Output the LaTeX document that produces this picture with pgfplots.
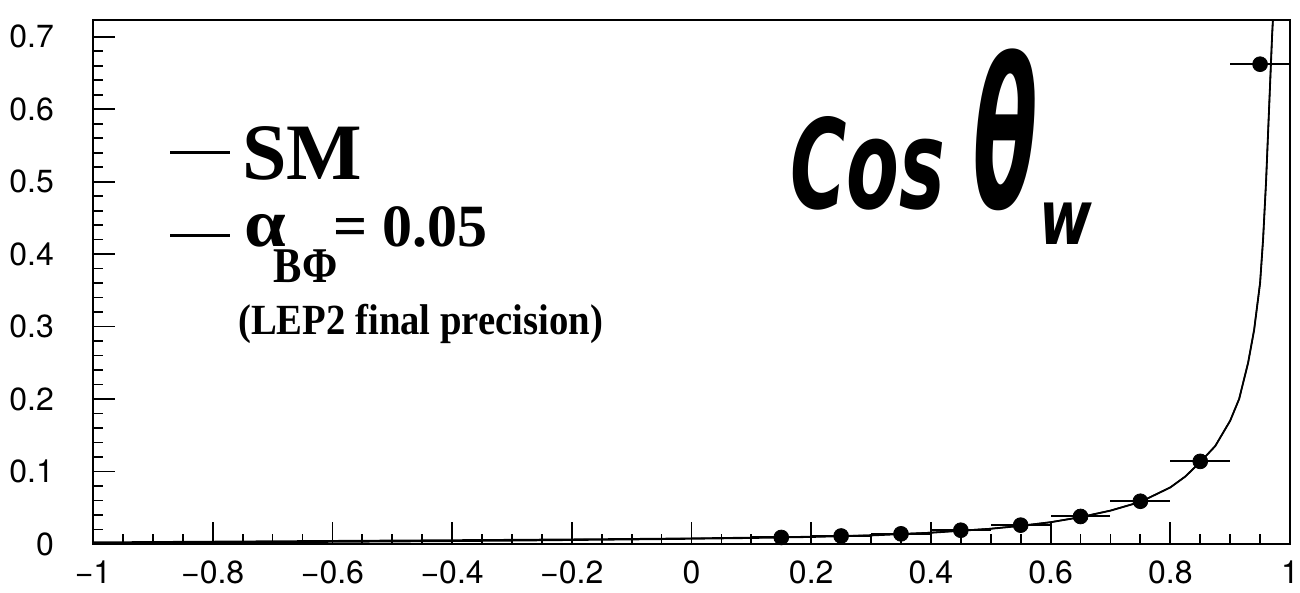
\documentclass[border=0pt]{standalone}
\usepackage{graphicx}
\usepackage{pgfplots}
\pgfplotsset{compat=1.18}
\usepackage{fontspec}
\setmainfont{Liberation Serif}
\newfontfamily\tickfont{TeX Gyre Heros}
\newfontfamily\handfont{DejaVu Sans}

% binned measurement: bin centre, value, half bin width
\pgfplotstableread{
x     y      ex
0.15  0.009  0.05
0.25  0.011  0.05
0.35  0.014  0.05
0.45  0.019  0.05
0.55  0.026  0.05
0.65  0.038  0.05
0.75  0.059  0.05
0.85  0.114  0.05
0.95  0.662  0.05
}\measured

\begin{document}
\begin{tikzpicture}
\begin{axis}[
  scale only axis, width=598.5pt, height=262pt,
  xmin=-1, xmax=1, ymin=0, ymax=0.723,
  axis line style={line width=1.2pt},
  xtick={-1,-0.8,-0.6,-0.4,-0.2,0,0.2,0.4,0.6,0.8,1},
  xticklabels={−1,−0.8,−0.6,−0.4,−0.2,0,0.2,0.4,0.6,0.8,1},
  ytick={0,0.1,0.2,0.3,0.4,0.5,0.6,0.7},
  yticklabels={0,0.1,0.2,0.3,0.4,0.5,0.6,0.7},
  minor x tick num=3, minor y tick num=4,
  tick align=inside, tick pos=left,
  major tick length=11pt, minor tick length=5pt,
  every tick/.style={black, line width=0.9pt},
  ticklabel style={font=\tickfont\fontsize{16}{18}\selectfont},
  yticklabel shift=16pt, xticklabel shift=5pt,
]
% Standard Model prediction
\addplot[black, line width=0.9pt] coordinates {
(-1,0.001) (-0.9,0.0015) (-0.8,0.002) (-0.7,0.0025) (-0.6,0.003)
(-0.5,0.0035) (-0.4,0.004) (-0.3,0.0047) (-0.2,0.0055) (-0.1,0.0063)
(0,0.0072) (0.1,0.0083) (0.2,0.0097) (0.3,0.0118) (0.4,0.0155)
(0.5,0.021) (0.55,0.025) (0.6,0.030) (0.65,0.037) (0.7,0.046)
(0.75,0.058) (0.8,0.078) (0.825,0.093) (0.85,0.113) (0.875,0.135)
(0.9,0.17) (0.915,0.2) (0.93,0.25) (0.94,0.295) (0.95,0.36)
(0.955,0.42) (0.96,0.5) (0.965,0.6) (0.97,0.7) (0.975,0.78)
};
% anomalous coupling alpha_BPhi = 0.05
\addplot[black, line width=0.7pt] coordinates {
(-1,0.0025) (-0.9,0.003) (-0.8,0.0035) (-0.7,0.004) (-0.6,0.0045)
(-0.5,0.005) (-0.4,0.0055) (-0.3,0.006) (-0.2,0.0066) (-0.1,0.0072)
(0,0.008) (0.1,0.009) (0.2,0.0103) (0.3,0.0122) (0.4,0.0158)
(0.5,0.0212) (0.55,0.0252) (0.6,0.0302) (0.65,0.0372) (0.7,0.0462)
(0.75,0.0582) (0.8,0.0782) (0.825,0.0932) (0.85,0.1132) (0.875,0.1352)
(0.9,0.1702) (0.915,0.2003) (0.93,0.2503) (0.94,0.2955) (0.95,0.3605)
(0.955,0.4207) (0.96,0.5008) (0.965,0.601) (0.97,0.701) (0.975,0.781)
};
% measured points with bin-width error bars
\addplot[black, only marks, mark=*, mark size=3.7pt,
  error bars/.cd, x dir=both, x explicit, error mark=none,
  error bar style={line width=1pt}]
  table[x=x, y=y, x error=ex] {\measured};

\node[anchor=base west, inner sep=0, text depth=0pt] at (rel axis cs:0.064,0.695)
  {\rule[13pt]{30pt}{1.6pt}\hspace{6pt}{\bfseries\fontsize{40}{40}\selectfont SM}};
\node[anchor=base west, inner sep=0, text height=22pt] at (rel axis cs:0.064,0.567)
  {\rule[5pt]{30pt}{1.6pt}\hspace{7pt}{\bfseries\scalebox{1.1}[1]{\fontsize{34}{34}\selectfont α}}\hspace{-6pt}\raisebox{-18pt}{\bfseries\scalebox{0.85}[1]{\fontsize{25}{25}\selectfont BΦ}}\hspace{-2pt}{\bfseries\fontsize{30}{30}\selectfont = 0.05}};
\node[anchor=base west, inner sep=0, text height=14pt] at (rel axis cs:0.121,0.400)
  {\bfseries\scalebox{0.9}[1]{\fontsize{21.5}{22}\selectfont (LEP2 final precision)}};
\node[anchor=base west, inner sep=0] at (rel axis cs:0.582,0.641)
  {\handfont\bfseries\itshape\scalebox{0.62}[1]{\fontsize{62}{62}\selectfont Cos}\hspace{14pt}\scalebox{0.45}[1]{\fontsize{104}{104}\selectfont θ}\hspace{1pt}\raisebox{-18pt}{\scalebox{0.75}[1]{\fontsize{38}{38}\selectfont w}}};
\end{axis}
\pgfresetboundingbox
\path[use as bounding box] (current axis.south west) ++(-46.5pt,-24.5pt) rectangle ++(650pt,296.5pt);
\end{tikzpicture}
\end{document}
